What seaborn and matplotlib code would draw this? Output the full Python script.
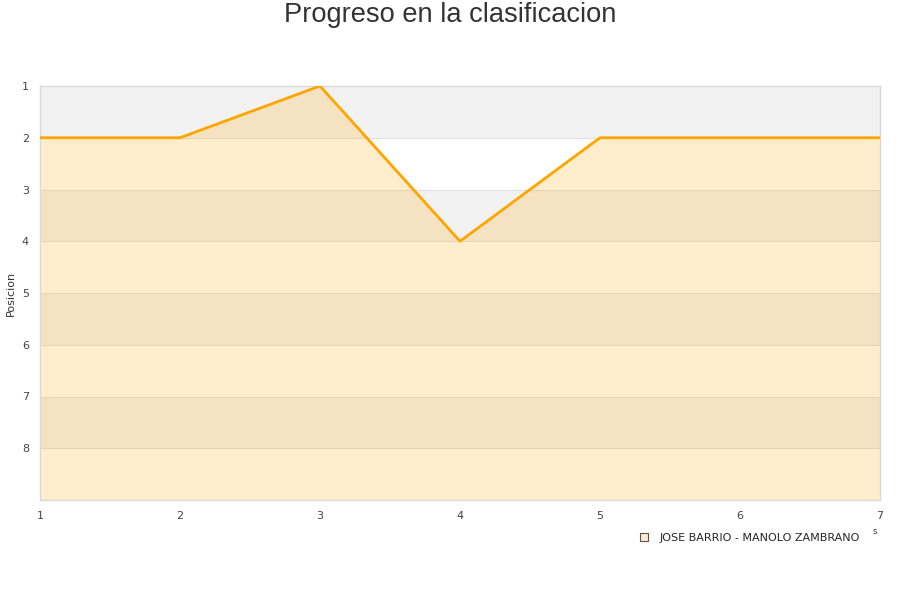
import numpy as np
import pandas as pd
import matplotlib
matplotlib.use("Agg")
import matplotlib.pyplot as plt
import seaborn as sns
from matplotlib.lines import Line2D

# datos
jornadas = [1, 2, 3, 4, 5, 6, 7]
posiciones = [2, 2, 1, 4, 2, 2, 2]
pareja = "JOSE BARRIO - MANOLO ZAMBRANO"
titulo = "Progreso en la clasificacion"

df = pd.DataFrame({"Jornada": jornadas, "Posicion": posiciones})

sns.set_style("white")
plt.rcParams["font.family"] = ["DejaVu Sans"]

fig = plt.figure(figsize=(9, 6), dpi=100)
ax = fig.add_axes([40 / 900, 100 / 600, 840 / 900, 414 / 600])

y_min, y_max = 1, 9
# bandas alternas
for k in range(y_min, y_max):
    color = "#f2f2f2" if (k - y_min) % 2 == 0 else "white"
    ax.axhspan(k, k + 1, color=color, zorder=0, lw=0)
for k in range(y_min + 1, y_max):
    ax.axhline(k, color="#e0e0e0", lw=0.8, zorder=1)

ax.fill_between(df["Jornada"], df["Posicion"], y_max, color="#ffa500", alpha=0.2, lw=0, zorder=2)
sns.lineplot(data=df, x="Jornada", y="Posicion", color="#ffa500", lw=2, ax=ax, zorder=3)

ax.set_xlim(1, 7)
ax.set_ylim(y_max, y_min)
ax.set_xticks(jornadas)
ax.set_yticks(range(1, 9))
ax.tick_params(axis="both", labelsize=8, colors="#444444", length=0, pad=8)
ax.set_xlabel("")
ax.set_ylabel("Posicion", fontsize=8, color="#333333")
ax.yaxis.set_label_coords(-24 / 840, 0.5)
for s in ax.spines.values():
    s.set_color("#d9d9d9")
    s.set_linewidth(1)

fig.text(0.5, 1 - 15 / 600, titulo, ha="center", va="center", fontsize=19.6, color="#333333",
         family=["Liberation Sans", "DejaVu Sans"])
fig.text(875 / 900, 1 - 532 / 600, "s", ha="center", va="center", fontsize=6, color="#333333")

handle = Line2D([], [], marker="s", linestyle="none", markersize=6,
                markerfacecolor="#ffecc8", markeredgecolor="#555555", markeredgewidth=0.8)
fig.legend([handle], [pareja], loc="center right", bbox_to_anchor=(864 / 900, 1 - 538 / 600),
           frameon=False, fontsize=8, handletextpad=0.4, borderaxespad=0)

fig.savefig("out.png", dpi=100)
